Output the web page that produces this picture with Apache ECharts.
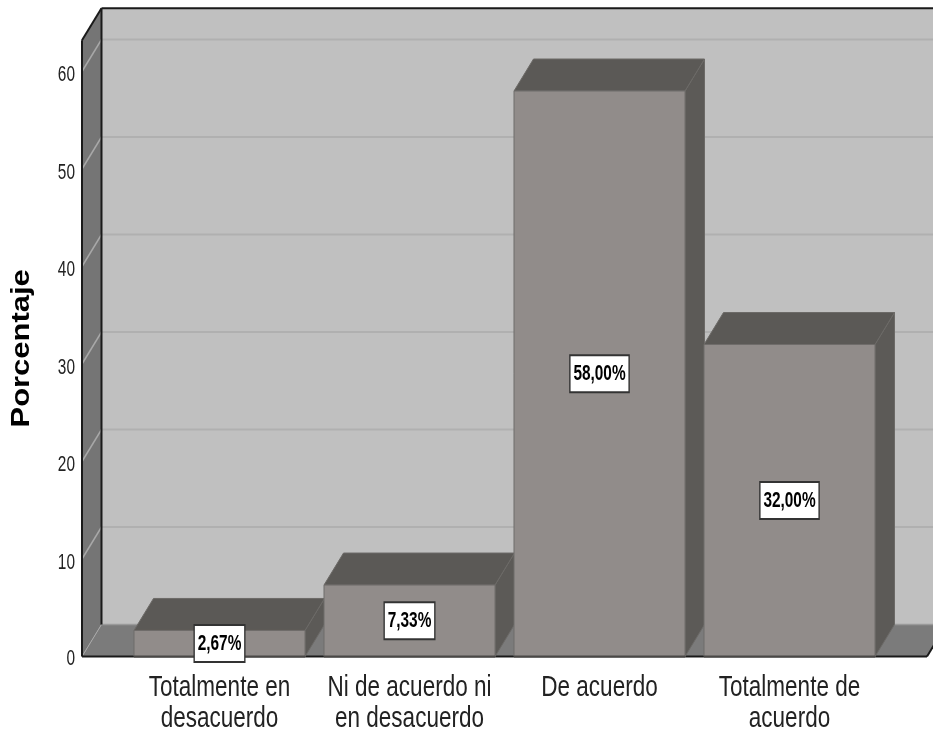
<!DOCTYPE html>
<html>
<head>
<meta charset="utf-8">
<style>html,body{margin:0;padding:0;background:#fff}#c{width:933px;height:730px}</style>
<script src="https://cdn.jsdelivr.net/npm/echarts@6/dist/echarts.min.js"></script>
</head>
<body>
<div id="c"></div>
<script>
const categories = ['Totalmente en\ndesacuerdo', 'Ni de acuerdo ni\nen desacuerdo', 'De acuerdo', 'Totalmente de\nacuerdo'];
const percentages = [2.67, 7.33, 58.00, 32.00];
const percentLabels = ['2,67%', '7,33%', '58,00%', '32,00%'];
const yTicks = [0, 10, 20, 30, 40, 50, 60];
const yMax = 63.2;
const axisTitle = 'Porcentaje';

const DX = 19.5, DY = -32, BAR_W = 171, PAD_L = 42.5, PAD_R = 42.5;
const SANS = '"Liberation Sans",Arial,sans-serif';

const chart = echarts.init(document.getElementById('c'), null, {renderer: 'canvas'});

function poly(points, fill, stroke, lw) {
  return {type: 'polygon', shape: {points}, style: {fill, stroke: stroke || fill, lineWidth: lw === undefined ? 1 : lw}};
}
function seg(x1, y1, x2, y2, stroke, lw) {
  return {type: 'line', shape: {x1, y1, x2, y2}, style: {stroke, lineWidth: lw}};
}

function renderWalls(params, api) {
  const cs = params.coordSys;
  const L = cs.x - PAD_L, R = cs.x + cs.width + PAD_R;
  const y0 = api.coord([0, 0])[1], yT = api.coord([0, yMax])[1];
  const kids = [
    poly([[L + DX, yT + DY], [R + DX, yT + DY], [R + DX, y0 + DY], [L + DX, y0 + DY]], '#c0c0c0', 'none', 0),
    poly([[L, yT], [L + DX, yT + DY], [L + DX, y0 + DY], [L, y0]], '#757575', 'none', 0),
    poly([[L, y0], [L + DX, y0 + DY], [R + DX, y0 + DY], [R, y0]], '#7b7b7b', 'none', 0)
  ];
  yTicks.forEach(v => {
    if (v === 0) return;
    const y = api.coord([0, v])[1];
    kids.push(seg(L + DX, y + DY, R + DX, y + DY, '#b0b0b0', 2));
    kids.push(seg(L, y, L + DX, y + DY, '#a8a8a8', 1.5));
  });
  kids.push(seg(L, y0, L + DX, y0 + DY, '#a8a8a8', 1));
  kids.push(seg(L + DX, y0 + DY, R + DX, y0 + DY, '#9a9a9a', 1.5));
  kids.push(seg(L, yT, L, y0, '#1a1a1a', 2));
  kids.push(seg(L, yT, L + DX, yT + DY, '#1a1a1a', 2));
  kids.push(seg(L + DX, yT + DY, L + DX, y0 + DY, '#1a1a1a', 2));
  kids.push(seg(L + DX, yT + DY, R + DX, yT + DY, '#1a1a1a', 2));
  kids.push(seg(L, y0, R, y0, '#1a1a1a', 2));
  kids.push(seg(R, y0, R + DX, y0 + DY, '#1a1a1a', 2));
  return {type: 'group', children: kids};
}

function renderBar(params, api) {
  const c = api.value(0), v = api.value(1);
  const top = api.coord([c, v]), base = api.coord([c, 0]);
  const x1 = top[0] - BAR_W / 2, x2 = top[0] + BAR_W / 2, yt = top[1], yb = base[1];
  return {type: 'group', children: [
    poly([[x2, yt], [x2 + DX, yt + DY], [x2 + DX, yb + DY], [x2, yb]], '#5c5a57', '#6c6a67', 1),
    poly([[x1, yt], [x1 + DX, yt + DY], [x2 + DX, yt + DY], [x2, yt]], '#5b5956', '#6c6a67', 1),
    poly([[x1, yt], [x2, yt], [x2, yb], [x1, yb]], '#918c8a', '#6f6c6a', 1),
    seg(x1, yb, x2, yb, '#4a4846', 2)
  ]};
}

function renderLabel(params, api) {
  const c = api.value(0), v = api.value(1);
  const p = api.coord([c, v / 2]);
  return {type: 'text', z2: 100, x: p[0], y: p[1], scaleX: 0.7, style: {
    text: percentLabels[params.dataIndex],
    x: 0, y: 0, align: 'center', verticalAlign: 'middle',
    font: 'bold 22px ' + SANS, fill: '#000',
    backgroundColor: '#fff', borderColor: '#333', borderWidth: 2,
    padding: [7, 4, 6, 4]
  }};
}

function renderCategoryText(params, api) {
  const p = api.coord([api.value(0), 0]);
  return {type: 'text', x: p[0], y: p[1] + 16, scaleX: 0.75, style: {
    text: categories[params.dataIndex], x: 0, y: 0, align: 'center', verticalAlign: 'top',
    font: '30px ' + SANS, lineHeight: 31, fill: '#222'
  }};
}

function renderTickText(params, api) {
  const cs = params.coordSys;
  const v = api.value(1);
  const y = api.coord([0, v])[1];
  return {type: 'text', x: cs.x - PAD_L - 7, y: y + (v === 0 ? 2 : 3.5), scaleX: 0.7, style: {
    text: String(v), x: 0, y: 0, align: 'right', verticalAlign: 'middle',
    font: '22px ' + SANS, fill: '#222'
  }};
}

function renderTitle(params, api) {
  const y = api.coord([0, yMax / 2])[1];
  return {type: 'text', x: 22, y: y, rotation: Math.PI / 2, scaleX: 1.19, style: {
    text: axisTitle, x: 0, y: 0, align: 'center', verticalAlign: 'middle',
    font: 'bold 26px ' + SANS, fill: '#000'
  }};
}

const points = percentages.map((v, i) => [i, v]);

chart.setOption({
  animation: false,
  backgroundColor: '#ffffff',
  grid: {left: 124.5, width: 760, top: 656.5 - yMax * 9.75, height: yMax * 9.75, outerBoundsMode: 'none'},
  xAxis: {
    type: 'category', data: categories,
    axisLine: {show: false}, axisTick: {show: false}, axisLabel: {show: false}
  },
  yAxis: {
    type: 'value', min: 0, max: yMax, interval: 10,
    splitLine: {show: false}, axisLine: {show: false}, axisTick: {show: false}, axisLabel: {show: false}
  },
  series: [
    {type: 'custom', name: 'walls', data: [[0, 0]], renderItem: renderWalls, silent: true, z: 1, clip: false},
    {type: 'custom', name: 'Porcentaje', data: points, renderItem: renderBar, encode: {x: 0, y: 1}, z: 2, clip: false},
    {type: 'custom', name: 'labels', data: points, renderItem: renderLabel, encode: {x: 0, y: 1}, z: 3, clip: false},
    {type: 'custom', name: 'categoryText', data: points, renderItem: renderCategoryText, encode: {x: 0, y: 1}, z: 3, clip: false, silent: true},
    {type: 'custom', name: 'tickText', data: yTicks.map(v => [0, v]), renderItem: renderTickText, encode: {x: 0, y: 1}, z: 3, clip: false, silent: true},
    {type: 'custom', name: 'title', data: [[0, 0]], renderItem: renderTitle, z: 3, clip: false, silent: true}
  ]
});
</script>
</body>
</html>
